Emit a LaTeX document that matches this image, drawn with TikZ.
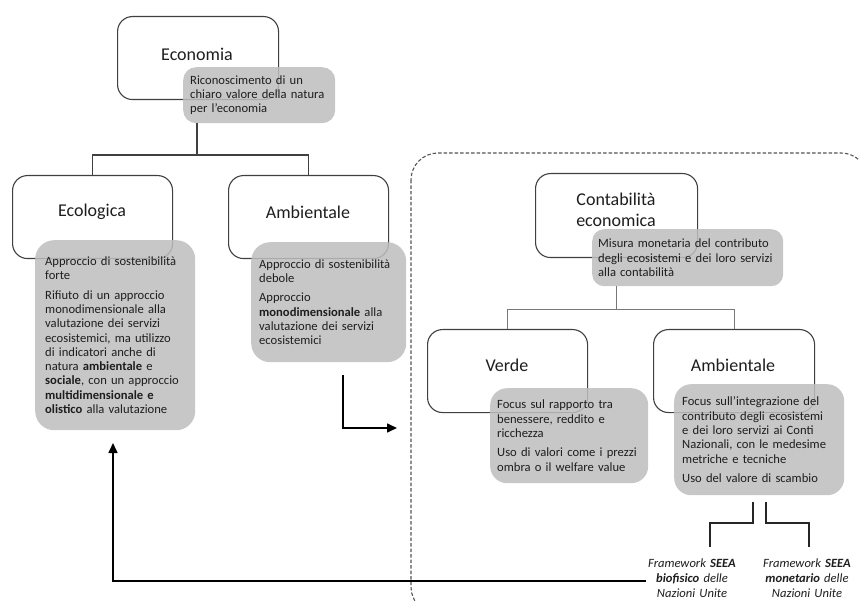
\documentclass[tikz,border=0pt]{standalone}
\usepackage{fontspec}
\setmainfont{Carlito}
\usetikzlibrary{arrows.meta}
\definecolor{gfill}{RGB}{190,190,190}
\definecolor{bline}{RGB}{64,64,64}
\definecolor{txt}{RGB}{30,30,30}
\definecolor{lconn}{RGB}{120,120,120}
\definecolor{dline}{RGB}{85,85,85}
\newcommand\myS{\fontsize{12.6pt}{14.3pt}\selectfont}
\newcommand\myB{\fontsize{18pt}{21pt}\selectfont}
\newcommand\myF{\fontsize{12.6pt}{15pt}\selectfont}
\tikzset{
  wbox/.style={draw=bline, line width=1.1pt, rounded corners=15pt, fill=white,
    anchor=north west, inner sep=0pt},
  gbox/.style={fill=gfill, fill opacity=0.85, text opacity=1, text=txt,
    anchor=north west, inner xsep=7pt, inner ysep=0pt, align=left, font=\myS},
  titl/.style={font=\myB, text=txt, align=center, inner sep=0pt},
  dconn/.style={draw=bline, line width=1.2pt},
  lconnst/.style={draw=lconn, line width=1pt},
  fconn/.style={draw=black!85, line width=1.5pt},
  arr/.style={draw=black, line width=1.6pt, -{Triangle[length=10pt,width=9pt]}},
  fw/.style={font=\myF\itshape, text=txt, align=center, text width=92pt, inner xsep=0pt, inner ysep=3pt},
  dashbox/.style={draw=dline, line width=1.1pt, dash pattern=on 3.5pt off 2pt, rounded corners=27pt}
}
\begin{document}
\begin{tikzpicture}[x=1pt,y=-1pt]
\clip (0,0) rectangle (859,601);
\fill[white] (0,0) rectangle (859,601);

% dashed region
\draw[dashbox] (411,153) rectangle (868,614);

% white boxes
\node[wbox, minimum width=161pt, minimum height=83pt] (econ) at (117,16) {};
\node[wbox, minimum width=160pt, minimum height=83pt] (ecol) at (12,175) {};
\node[wbox, minimum width=160pt, minimum height=83pt] (ambL) at (228,175) {};
\node[wbox, minimum width=162pt, minimum height=84pt] (cont) at (535,173) {};
\node[wbox, minimum width=160pt, minimum height=83pt] (verd) at (427,329) {};
\node[wbox, minimum width=161pt, minimum height=83pt] (ambR) at (653,329) {};

% titles
\node[titl] (econT) at (197,54) {Economia};
\node[titl] (ecolT) at (92,212) {Ecologica};
\node[titl] (ambLT) at (308,212) {Ambientale};
\node[titl] (contT) at (616,210) {Contabilità\\economica};
\node[titl] (verdT) at (507,365) {Verde};
\node[titl] (ambRT) at (733,365) {Ambientale};

% gray boxes
\node[gbox, rounded corners=13pt, text width=138pt, minimum height=56pt] (econG) at (183,67)
  {Riconoscimento di un\\chiaro valore della natura\\per l'economia};
\node[gbox, rounded corners=19pt, inner xsep=10pt, text width=140pt, minimum height=190pt] (ecolG) at (35,240)
  {Approccio di sostenibilità\\forte\\[5pt]Rifiuto di un approccio\\monodimensionale alla\\valutazione dei servizi\\ecosistemici, ma utilizzo\\di indicatori anche di\\natura \textbf{ambientale} e\\\textbf{sociale}, con un approccio\\\textbf{multidimensionale e}\\\textbf{olistico} alla valutazione};
\node[gbox, rounded corners=19pt, inner xsep=8pt, text width=139pt, minimum height=120pt] (ambLG) at (251,242)
  {Approccio di sostenibilità\\debole\\[5pt]Approccio\\\textbf{monodimensionale} alla\\valutazione dei servizi\\ecosistemici};
\node[gbox, rounded corners=12pt, inner xsep=6pt, text width=179pt, minimum height=57pt] (contG) at (592,229)
  {Misura monetaria del contributo\\degli ecosistemi e dei loro servizi\\alla contabilità};
\node[gbox, rounded corners=17pt, text width=144pt, minimum height=95pt] (verdG) at (490,388)
  {Focus sul rapporto tra\\benessere, reddito e\\ricchezza\\[5pt]Uso di valori come i prezzi\\ombra o il welfare value};
\node[gbox, rounded corners=17pt, inner xsep=8pt, text width=154pt, minimum height=111pt] (ambRG) at (674,384)
  {Focus sull'integrazione del\\contributo degli ecosistemi\\e dei loro servizi ai Conti\\Nazionali, con le medesime\\metriche e tecniche\\[5pt]Uso del valore di scambio};

% framework nodes
\node[fw] (fw1) at (692,578) {Framework \textbf{SEEA}\\\textbf{biofisico} delle\\Nazioni Unite};
\node[fw] (fw2) at (807,578) {Framework \textbf{SEEA}\\\textbf{monetario} delle\\Nazioni Unite};

% connectors left
\coordinate (f1) at (197,155);
\draw[dconn] (econG.south -| f1) -- (f1) -| (ecol.north);
\draw[dconn] (f1) -| (ambL.north);

% connectors right
\coordinate (f2) at (616,310);
\draw[lconnst] (contG.south -| f2) -- (f2) -| (verd.north);
\draw[lconnst] (f2) -| (ambR.north);

% framework connectors
\coordinate (p1) at (753,502);
\coordinate (p2) at (710,523);
\coordinate (p3) at (710,547);
\coordinate (q1) at (766,502);
\coordinate (q2) at (809,523);
\coordinate (q3) at (809,547);
\draw[fconn] (p1) |- (p2) -- (p3);
\draw[fconn] (q1) |- (q2) -- (q3);

% arrows
\coordinate (b1) at (343,375);
\coordinate (b2) at (397,428);
\draw[arr] (b1) |- (b2);
\coordinate (tipA) at (113,443);
\draw[arr] ([yshift=-3pt]fw1.west) -| (tipA);
\end{tikzpicture}
\end{document}
